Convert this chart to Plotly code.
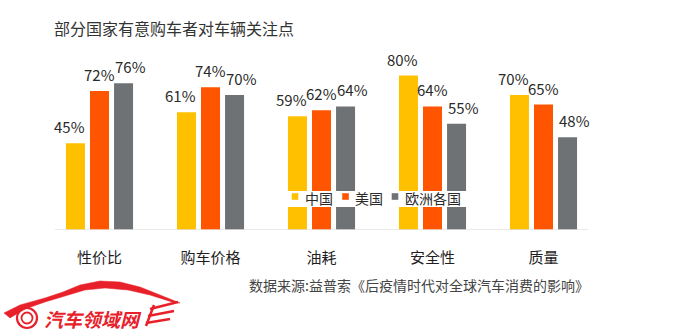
import plotly.graph_objects as go

# Data
categories = ["性价比", "购车价格", "油耗", "安全性", "质量"]
series_names = ["中国", "美国", "欧洲各国"]
china = [45, 61, 59, 80, 70]
usa = [72, 74, 62, 64, 65]
europe = [76, 70, 64, 55, 48]
colors = ["#FFC000", "#FF5500", "#6E7275"]

title_text = "部分国家有意购车者对车辆关注点"
source_text = "数据来源:益普索《后疫情时代对全球汽车消费的影响》"
logo_text = "汽车领域网"

W, H = 700, 335
L, R, T, B = 44, 101, 37, 105
PW, PH = W - L - R, H - T - B
CJK = "Noto Sans CJK SC"
BARGAP, BARGROUPGAP = 0.35, 0.21


def px(x):
    return (x - L) / PW


def py(y):
    return (H - B - y) / PH


fig = go.Figure()
for name, vals, col in zip(series_names, [china, usa, europe], colors):
    fig.add_trace(go.Bar(
        x=categories, y=vals, name=name, marker_color=col,
        marker_line_width=0, showlegend=False,
    ))

shapes = []
annotations = []

# value labels: spread sideways a little so neighbouring labels don't collide
slot = PW / len(categories) * (1 - BARGAP) / len(series_names)
label_nudge = [-6, 0, 7]
for si, vals in enumerate([china, usa, europe]):
    for cat, v in zip(categories, vals):
        annotations.append(dict(
            text=f"{v}%", x=cat, y=v, xref="x", yref="y",
            xshift=(si - 1) * slot + label_nudge[si], yshift=4,
            xanchor="center", yanchor="bottom", showarrow=False,
            font=dict(family=CJK, size=15, color="#2a2a2a")))

# baseline
shapes.append(dict(type="line", xref="paper", yref="y", x0=px(55), x1=px(588),
                   y0=0, y1=0, line=dict(color="#E2E2E2", width=1.5), layer="above"))

# legend band drawn over the bars
shapes.append(dict(type="rect", xref="paper", yref="paper", x0=px(282), x1=px(470),
                   y0=py(207), y1=py(191), fillcolor="white", line_width=0, layer="above"))
leg_y = 196.5
for name, col, mx, tx in zip(series_names, colors, [295, 345.5, 395], [303, 353, 403]):
    shapes.append(dict(type="rect", xref="paper", yref="paper",
                       x0=px(mx - 3.3), x1=px(mx + 3.3), y0=py(leg_y + 3.3), y1=py(leg_y - 3.3),
                       fillcolor=col, line_width=0, layer="above"))
    annotations.append(dict(text=name, xref="paper", yref="paper", x=px(tx), y=py(leg_y + 1),
                            xanchor="left", yanchor="middle", showarrow=False,
                            font=dict(family=CJK, size=14, color="#2a2a2a")))

# title and source
annotations.append(dict(text=title_text, xref="paper", yref="paper", x=px(52), y=py(28),
                        xanchor="left", yanchor="middle", showarrow=False,
                        font=dict(family=CJK, size=16, color="#333333")))
annotations.append(dict(text=source_text, xref="paper", yref="paper", x=px(247), y=py(285),
                        xanchor="left", yanchor="middle", showarrow=False,
                        font=dict(family=CJK, size=14, color="#444444")))

# logo: car outline, wheel and name
red = "#E8202A"


def path(points):
    return " ".join(("M" if i == 0 else "L") + f"{px(x):.5f},{py(y):.5f}" for i, (x, y) in enumerate(points))


car_outer = [(4, 313), (20, 305), (45, 298), (63, 292), (80, 285), (100, 281), (120, 282),
             (140, 287), (160, 295), (180, 303)]
car_inner = [(172, 302), (150, 295), (128, 290), (105, 288), (85, 290), (65, 296), (45, 302),
             (25, 309), (10, 318)]
shapes.append(dict(type="path", xref="paper", yref="paper",
                   path=path(car_outer + car_inner) + " Z",
                   fillcolor=red, line=dict(color=red, width=0.5), layer="above"))
for (x0, y0, x1, y1) in [(150, 309, 178, 302), (148, 316, 174, 311), (146, 323, 170, 319)]:
    shapes.append(dict(type="line", xref="paper", yref="paper", x0=px(x0), y0=py(y0),
                       x1=px(x1), y1=py(y1), line=dict(color=red, width=2.5), layer="above"))
shapes.append(dict(type="line", xref="paper", yref="paper", x0=px(146), y0=py(326),
                   x1=px(154), y1=py(305), line=dict(color=red, width=2.5), layer="above"))
for r, wdt in [(10, 2.2), (5.5, 1.8)]:
    shapes.append(dict(type="circle", xref="paper", yref="paper",
                       x0=px(27 - r), x1=px(27 + r), y0=py(318 + r), y1=py(318 - r),
                       line=dict(color=red, width=wdt), layer="above"))
annotations.append(dict(text=f"<b>{logo_text}</b>", xref="paper", yref="paper", x=px(42), y=py(318),
                        xanchor="left", yanchor="middle", showarrow=False,
                        font=dict(family=CJK, size=19, color=red, style="italic")))

fig.update_layout(
    width=W, height=H,
    margin=dict(l=L, r=R, t=T, b=B, pad=0),
    paper_bgcolor="white", plot_bgcolor="white",
    barmode="group", bargap=BARGAP, bargroupgap=BARGROUPGAP,
    xaxis=dict(range=[-0.5, 4.5], showgrid=False, zeroline=False, showline=False,
               ticks="outside", ticklen=14, tickcolor="rgba(0,0,0,0)",
               tickfont=dict(family=CJK, size=15, color="#1e1e1e")),
    yaxis=dict(range=[0, 100], visible=False, fixedrange=True),
    shapes=shapes, annotations=annotations,
    showlegend=False,
)

fig.write_html("out.html")
